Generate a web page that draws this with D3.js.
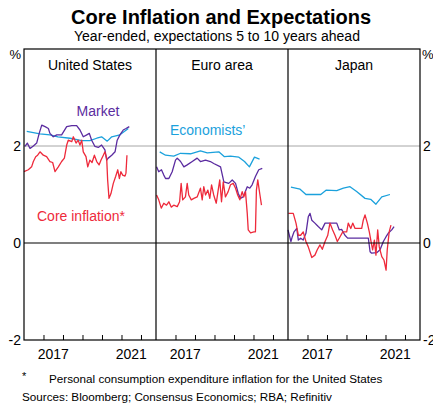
<!DOCTYPE html>
<html>
<head>
<meta charset="utf-8">
<title>Core Inflation and Expectations</title>
<script src="https://cdn.jsdelivr.net/npm/d3@7"></script>
<style>
  body { margin: 0; background: #fff; }
  svg text { font-family: "Liberation Sans", Arial, sans-serif; fill: #000; }
</style>
</head>
<body>
<div id="chart"></div>
<script>
// panels, ticks
const panelNames = ["United States", "Euro area", "Japan"];
const yTicks = [-2, 0, 2];
const yearTicks = [2017, 2018, 2019, 2020, 2021, 2022];
const yearLabels = [2017, 2021];

// [year, per cent]
const usMarket = [[2016.05,1.99],[2016.17,2.06],[2016.31,1.95],[2016.48,2.00],[2016.65,2.06],[2016.78,2.26],[2016.91,2.43],[2017.08,2.40],[2017.25,2.36],[2017.33,2.26],[2017.50,2.19],[2017.68,2.23],[2017.93,2.23],[2018.19,2.40],[2018.45,2.42],[2018.70,2.42],[2018.87,2.33],[2019.04,2.19],[2019.22,2.23],[2019.35,2.26],[2019.47,2.12],[2019.64,1.99],[2019.81,1.97],[2019.98,2.02],[2020.15,1.92],[2020.24,1.71],[2020.32,1.75],[2020.50,1.81],[2020.67,1.88],[2020.78,2.12],[2020.92,2.23],[2021.09,2.33],[2021.23,2.36],[2021.40,2.40]];
const usEconomists = [[2016.14,2.30],[2016.82,2.25],[2017.33,2.23],[2017.74,2.19],[2018.36,2.16],[2018.96,2.11],[2019.38,2.11],[2019.73,2.16],[2019.98,2.19],[2020.27,2.10],[2020.50,2.19],[2020.92,2.23],[2021.35,2.36]];
const usCore = [[2016.00,1.47],[2016.22,1.51],[2016.39,1.57],[2016.48,1.68],[2016.60,1.78],[2016.70,1.81],[2016.82,1.88],[2016.99,1.81],[2017.16,1.78],[2017.33,1.68],[2017.47,1.66],[2017.59,1.47],[2017.76,1.57],[2017.93,1.68],[2018.07,1.75],[2018.19,2.02],[2018.27,2.12],[2018.45,2.09],[2018.53,2.19],[2018.67,2.06],[2018.78,2.12],[2018.87,2.02],[2018.96,2.12],[2019.04,1.88],[2019.18,1.78],[2019.27,1.57],[2019.38,1.71],[2019.49,1.66],[2019.61,1.81],[2019.73,1.68],[2019.85,1.61],[2019.95,1.71],[2020.07,1.81],[2020.15,1.88],[2020.24,1.75],[2020.29,1.30],[2020.36,0.92],[2020.46,1.02],[2020.58,1.23],[2020.70,1.37],[2020.81,1.51],[2020.89,1.33],[2020.97,1.47],[2021.06,1.40],[2021.18,1.38],[2021.23,1.44],[2021.28,1.81]];

const euMarket = [[2016.03,1.57],[2016.14,1.47],[2016.28,1.51],[2016.40,1.40],[2016.49,1.33],[2016.66,1.33],[2016.83,1.47],[2017.00,1.71],[2017.09,1.75],[2017.26,1.68],[2017.43,1.57],[2017.60,1.61],[2017.86,1.68],[2018.11,1.75],[2018.28,1.68],[2018.54,1.71],[2018.79,1.68],[2018.96,1.64],[2019.31,1.57],[2019.48,1.26],[2019.73,1.23],[2019.91,1.30],[2020.08,1.23],[2020.22,1.02],[2020.33,0.92],[2020.47,0.95],[2020.68,1.16],[2020.81,1.13],[2020.93,1.20],[2021.10,1.37],[2021.27,1.51],[2021.45,1.54]];
const euEconomists = [[2016.19,1.88],[2016.49,1.81],[2016.91,1.79],[2017.26,1.85],[2017.77,1.84],[2018.28,1.90],[2018.63,1.86],[2019.22,1.88],[2019.51,1.78],[2019.82,1.79],[2020.25,1.77],[2020.54,1.68],[2020.79,1.57],[2021.05,1.77],[2021.31,1.73]];
const euCore = [[2016.03,0.99],[2016.14,0.89],[2016.27,0.72],[2016.40,0.82],[2016.54,0.78],[2016.66,0.85],[2016.78,0.74],[2016.91,0.78],[2017.09,0.75],[2017.21,0.85],[2017.29,1.23],[2017.37,0.89],[2017.51,0.95],[2017.60,1.23],[2017.68,0.99],[2017.81,0.89],[2017.94,0.92],[2018.11,0.95],[2018.28,1.13],[2018.37,0.89],[2018.45,1.16],[2018.54,0.99],[2018.66,1.09],[2018.76,0.92],[2018.85,1.20],[2018.96,0.99],[2019.09,0.82],[2019.19,1.09],[2019.27,1.30],[2019.36,0.85],[2019.45,1.26],[2019.56,0.95],[2019.70,1.06],[2019.82,1.20],[2019.96,1.23],[2020.08,1.13],[2020.19,0.99],[2020.30,0.89],[2020.42,1.06],[2020.50,0.95],[2020.59,1.06],[2020.68,0.61],[2020.73,0.27],[2020.85,0.21],[2021.02,0.23],[2021.10,0.23],[2021.15,1.09],[2021.22,1.30],[2021.32,1.02],[2021.41,0.78]];

const jpMarket = [[2016.00,0.27],[2016.07,0.16],[2016.15,0.03],[2016.22,0.13],[2016.31,0.23],[2016.45,0.30],[2016.53,0.06],[2016.65,0.10],[2016.78,0.06],[2016.92,0.20],[2017.04,0.54],[2017.13,0.61],[2017.22,0.47],[2017.38,0.41],[2017.55,0.34],[2017.73,0.27],[2017.90,0.41],[2018.15,0.41],[2018.50,0.41],[2018.63,0.27],[2018.75,0.28],[2018.92,0.16],[2019.06,0.10],[2019.52,0.10],[2020.12,0.10],[2020.21,-0.18],[2020.29,-0.21],[2020.55,-0.20],[2020.72,-0.14],[2020.89,0.03],[2021.03,0.13],[2021.14,0.20],[2021.32,0.27],[2021.44,0.34]];
const jpEconomists = [[2016.15,1.15],[2016.62,1.11],[2016.92,1.00],[2017.68,1.00],[2017.95,1.09],[2018.50,1.08],[2018.84,1.13],[2019.18,1.16],[2019.52,1.06],[2019.95,0.92],[2020.24,0.90],[2020.51,0.80],[2020.81,0.95],[2021.23,1.00]];
const jpCore = [[2016.02,0.61],[2016.27,0.61],[2016.41,0.41],[2016.53,0.16],[2016.65,0.16],[2016.78,0.23],[2016.92,0.03],[2017.04,-0.08],[2017.22,-0.30],[2017.38,-0.25],[2017.50,-0.14],[2017.64,-0.04],[2017.76,-0.13],[2017.90,0.03],[2018.04,0.16],[2018.15,0.41],[2018.29,0.27],[2018.41,0.16],[2018.53,0.03],[2018.67,0.13],[2018.81,0.23],[2019.01,0.23],[2019.09,0.41],[2019.22,0.30],[2019.32,0.41],[2019.44,0.30],[2019.78,0.30],[2019.86,0.47],[2019.95,0.58],[2020.07,0.41],[2020.17,0.23],[2020.26,0.03],[2020.34,-0.14],[2020.43,0.06],[2020.51,-0.25],[2020.60,0.27],[2020.68,-0.08],[2020.81,-0.28],[2020.92,-0.35],[2021.03,-0.56],[2021.09,-0.14],[2021.19,0.23],[2021.28,0.37]];

const colMarket = "#5b2ca0", colEcon = "#1ba1dc", colCore = "#ee2a3b";

const panels = [
  { name: panelNames[0], market: usMarket, econ: usEconomists, core: usCore },
  { name: panelNames[1], market: euMarket, econ: euEconomists, core: euCore },
  { name: panelNames[2], market: jpMarket, econ: jpEconomists, core: jpCore }
];

const width = 433, height = 403;
const plotL = 24, plotR = 420, plotT = 49, plotB = 340;
const panelW = (plotR - plotL) / 3;

const svg = d3.select("#chart").append("svg")
  .attr("width", width).attr("height", height);

svg.append("text").attr("x", 221).attr("y", 24)
  .attr("text-anchor", "middle").attr("font-size", 20).attr("font-weight", "bold")
  .text("Core Inflation and Expectations");
svg.append("text").attr("x", 217).attr("y", 41)
  .attr("text-anchor", "middle").attr("font-size", 14)
  .text("Year-ended, expectations 5 to 10 years ahead");

const y = d3.scaleLinear().domain([-2, 4]).range([plotB, plotT]);

// grid line at 2
svg.append("line")
  .attr("x1", plotL).attr("x2", plotR)
  .attr("y1", y(2)).attr("y2", y(2))
  .attr("stroke", "#a6a6a6").attr("stroke-width", 1);

panels.forEach(function(p, i) {
  const x0 = plotL + i * panelW;
  const x = d3.scaleLinear().domain([2016, 2022.77]).range([x0, x0 + panelW]);
  const line = d3.line().x(d => x(d[0])).y(d => y(d[1]));
  const g = svg.append("g");

  [[p.econ, colEcon], [p.market, colMarket], [p.core, colCore]].forEach(function(s) {
    g.append("path").datum(s[0])
      .attr("d", line)
      .attr("fill", "none")
      .attr("stroke", s[1])
      .attr("stroke-width", 1.3)
      .attr("stroke-linejoin", "round");
  });

  g.append("text").attr("x", x0 + panelW / 2).attr("y", 70)
    .attr("text-anchor", "middle").attr("font-size", 14).text(p.name);

  // year ticks
  g.append("g")
    .attr("transform", "translate(0," + plotB + ")")
    .call(d3.axisBottom(x).tickValues(yearTicks).tickSize(-5).tickFormat(""))
    .call(a => a.select(".domain").remove())
    .call(a => a.selectAll("line").attr("stroke", "#000"));

  g.selectAll("text.year").data(yearLabels).enter().append("text")
    .attr("class", "year")
    .attr("x", d => x(d + 0.5)).attr("y", 359)
    .attr("text-anchor", "middle").attr("font-size", 14)
    .text(d => d);
});

// zero line
svg.append("line")
  .attr("x1", plotL).attr("x2", plotR)
  .attr("y1", y(0)).attr("y2", y(0))
  .attr("stroke", "#000").attr("stroke-width", 1.2);

// frame and panel dividers
svg.append("rect")
  .attr("x", plotL).attr("y", plotT)
  .attr("width", plotR - plotL).attr("height", plotB - plotT)
  .attr("fill", "none").attr("stroke", "#000").attr("stroke-width", 1.2);
[1, 2].forEach(function(k) {
  svg.append("line")
    .attr("x1", plotL + k * panelW).attr("x2", plotL + k * panelW)
    .attr("y1", plotT).attr("y2", plotB)
    .attr("stroke", "#000").attr("stroke-width", 1.2);
});

// y labels both sides
svg.selectAll("text.yl").data(yTicks).enter().append("text")
  .attr("class", "yl").attr("x", 21).attr("y", d => y(d) + 5)
  .attr("text-anchor", "end").attr("font-size", 14).text(d => d);
svg.selectAll("text.yr").data(yTicks).enter().append("text")
  .attr("class", "yr").attr("x", 423).attr("y", d => y(d) + 5)
  .attr("text-anchor", "start").attr("font-size", 14).text(d => d);
svg.append("text").attr("x", 21).attr("y", 59).attr("text-anchor", "end")
  .attr("font-size", 13).text("%");
svg.append("text").attr("x", 422).attr("y", 59).attr("font-size", 13).text("%");

// series labels
svg.append("text").attr("x", 98).attr("y", 116).attr("text-anchor", "middle")
  .attr("font-size", 14).style("fill", colMarket).text("Market");
svg.append("text").attr("x", 170).attr("y", 135)
  .attr("font-size", 14).style("fill", colEcon).text("Economists’");
svg.append("text").attr("x", 37).attr("y", 221)
  .attr("font-size", 14).style("fill", colCore).text("Core inflation*");

// notes
svg.append("text").attr("x", 22).attr("y", 380).attr("font-size", 11).text("*");
svg.append("text").attr("x", 49).attr("y", 383).attr("font-size", 11.7)
  .text("Personal consumption expenditure inflation for the United States");
svg.append("text").attr("x", 22).attr("y", 401).attr("font-size", 11.7)
  .text("Sources: Bloomberg; Consensus Economics; RBA; Refinitiv");
</script>
</body>
</html>
